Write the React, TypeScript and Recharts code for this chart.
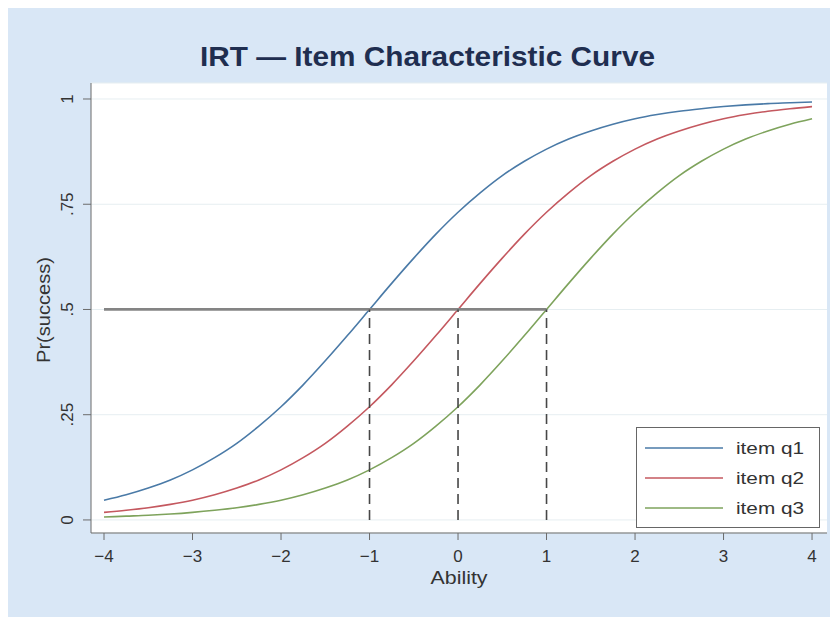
import React from "react";
import {
  LineChart,
  Line,
  XAxis,
  YAxis,
  CartesianGrid,
  ReferenceLine,
  Legend,
} from "recharts";

// Ability grid (x values)
const abilities = [
  -4, -3.75, -3.5, -3.25, -3, -2.75, -2.5, -2.25, -2, -1.75, -1.5, -1.25, -1,
  -0.75, -0.5, -0.25, 0, 0.25, 0.5, 0.75, 1, 1.25, 1.5, 1.75, 2, 2.25, 2.5,
  2.75, 3, 3.25, 3.5, 3.75, 4,
];

// Pr(success)
const q1 = [
  0.047, 0.06, 0.076, 0.095, 0.119, 0.148, 0.182, 0.223, 0.269, 0.321, 0.378,
  0.438, 0.5, 0.562, 0.622, 0.679, 0.731, 0.777, 0.818, 0.852, 0.881, 0.905,
  0.924, 0.94, 0.953, 0.963, 0.971, 0.977, 0.982, 0.986, 0.989, 0.991, 0.993,
];
const q2 = [
  0.018, 0.023, 0.029, 0.037, 0.047, 0.06, 0.076, 0.095, 0.119, 0.148, 0.182,
  0.223, 0.269, 0.321, 0.378, 0.438, 0.5, 0.562, 0.622, 0.679, 0.731, 0.777,
  0.818, 0.852, 0.881, 0.905, 0.924, 0.94, 0.953, 0.963, 0.971, 0.977, 0.982,
];
const q3 = [
  0.007, 0.009, 0.011, 0.014, 0.018, 0.023, 0.029, 0.037, 0.047, 0.06, 0.076,
  0.095, 0.119, 0.148, 0.182, 0.223, 0.269, 0.321, 0.378, 0.438, 0.5, 0.562,
  0.622, 0.679, 0.731, 0.777, 0.818, 0.852, 0.881, 0.905, 0.924, 0.94, 0.953,
];

const seriesKeys = ["q1", "q2", "q3"];
const seriesNames = ["item q1", "item q2", "item q3"];
const seriesColors = ["#4a7aa7", "#c4585f", "#7ea35c"];

const xTicks = [-4, -3, -2, -1, 0, 1, 2, 3, 4];
const yTicks = [0, 0.25, 0.5, 0.75, 1];
const yTickLabels = ["0", ".25", ".5", ".75", "1"];

// reference guides
const halfLevel = 0.5;
const abilityMin = -4;
const difficulties = [-1, 0, 1];

const data = abilities.map((a, i) => ({
  ability: a,
  q1: q1[i],
  q2: q2[i],
  q3: q3[i],
}));

const FONT = "'Liberation Sans', Arial, Helvetica, sans-serif";
const AXIS_COLOR = "#6b6b6b";
const TEXT_COLOR = "#333333";

const fmtX = (v: number) => (v < 0 ? "\u2212" + Math.abs(v) : String(v));

const XTick = (props: any) => {
  const { x, y, payload } = props;
  return (
    <text
      x={x}
      y={y + 20}
      textAnchor="middle"
      fontFamily={FONT}
      fontSize={17}
      fill={TEXT_COLOR}
    >
      {fmtX(payload.value)}
    </text>
  );
};

const YTick = (props: any) => {
  const { x, y, payload } = props;
  const idx = yTicks.indexOf(payload.value);
  const bx = x - 8;
  return (
    <text
      x={bx}
      y={y}
      transform={`rotate(-90, ${bx}, ${y})`}
      textAnchor="middle"
      fontFamily={FONT}
      fontSize={17}
      fill={TEXT_COLOR}
    >
      {idx >= 0 ? yTickLabels[idx] : payload.value}
    </text>
  );
};

const LegendBox = () => (
  <svg width={184} height={101} style={{ display: "block" }}>
    <rect x={0.5} y={0.5} width={183} height={100} fill="#ffffff" stroke="#666666" strokeWidth={1} />
    {seriesNames.map((name, i) => {
      const cy = 21 + i * 30;
      return (
        <g key={name}>
          <line x1={9} x2={87} y1={cy} y2={cy} stroke={seriesColors[i]} strokeWidth={1.6} />
          <text
            x={100}
            y={cy + 6}
            fontFamily={FONT}
            fontSize={17}
            fill={TEXT_COLOR}
            textLength={68}
            lengthAdjust="spacingAndGlyphs"
          >
            {name}
          </text>
        </g>
      );
    })}
  </svg>
);

export default function App() {
  return (
    <div
      style={{
        position: "relative",
        width: 830,
        height: 609,
        background: "#d9e7f6",
        fontFamily: FONT,
      }}
    >
      <LineChart
        width={830}
        height={609}
        data={data}
        margin={{ top: 75, right: 11, bottom: 0, left: 0 }}
      >
        <CartesianGrid vertical={false} stroke="#e6eef1" fill="#ffffff" />
        <XAxis
          dataKey="ability"
          type="number"
          domain={[-4.147, 4.169]}
          ticks={xTicks}
          allowDataOverflow
          height={84}
          tickSize={7}
          stroke={AXIS_COLOR}
          tick={<XTick />}
          label={{
            content: (p: any) => {
              const vb = p.viewBox || { x: 83, y: 525, width: 736 };
              return (
                <text
                  x={vb.x + vb.width / 2}
                  y={vb.y + 51}
                  textAnchor="middle"
                  fontFamily={FONT}
                  fontSize={18}
                  fill={TEXT_COLOR}
                  textLength={57}
                  lengthAdjust="spacingAndGlyphs"
                >
                  Ability
                </text>
              );
            },
          }}
        />
        <YAxis
          type="number"
          domain={[-0.031, 1.038]}
          ticks={yTicks}
          allowDataOverflow
          width={83}
          tickSize={8}
          stroke={AXIS_COLOR}
          tick={<YTick />}
          label={{
            content: (p: any) => {
              const vb = p.viewBox || { x: 0, y: 75, width: 83, height: 450 };
              const cy = vb.y + vb.height / 2 + 2;
              return (
                <text
                  x={42}
                  y={cy}
                  transform={`rotate(-90, 42, ${cy})`}
                  textAnchor="middle"
                  fontFamily={FONT}
                  fontSize={18}
                  fill={TEXT_COLOR}
                  textLength={106}
                  lengthAdjust="spacingAndGlyphs"
                >
                  Pr(success)
                </text>
              );
            },
          }}
        />
        {seriesKeys.map((k, i) => (
          <Line
            key={k}
            type="monotone"
            dataKey={k}
            name={seriesNames[i]}
            stroke={seriesColors[i]}
            strokeWidth={1.6}
            dot={false}
            activeDot={false}
            isAnimationActive={false}
          />
        ))}
        <ReferenceLine
          segment={[
            { x: abilityMin, y: halfLevel },
            { x: difficulties[difficulties.length - 1], y: halfLevel },
          ]}
          stroke="#848484"
          strokeWidth={2.8}
          ifOverflow="visible"
        />
        {difficulties.map((d) => (
          <ReferenceLine
            key={d}
            segment={[
              { x: d, y: 0 },
              { x: d, y: halfLevel },
            ]}
            stroke="#474747"
            strokeWidth={1.6}
            strokeDasharray="10 6"
            ifOverflow="visible"
          />
        ))}
        <Legend
          layout="vertical"
          align="center"
          verticalAlign="middle"
          content={<LegendBox />}
          wrapperStyle={{ position: "absolute", left: 628, top: 419, width: 184, height: 101 }}
        />
      </LineChart>
      <svg
        width={830}
        height={75}
        style={{ position: "absolute", left: 0, top: 0, pointerEvents: "none" }}
      >
        <text
          x={419.5}
          y={58}
          textAnchor="middle"
          fontFamily={FONT}
          fontSize={28}
          fontWeight="bold"
          fill="#1f2e50"
          textLength={455}
          lengthAdjust="spacingAndGlyphs"
        >
          IRT — Item Characteristic Curve
        </text>
      </svg>
    </div>
  );
}
